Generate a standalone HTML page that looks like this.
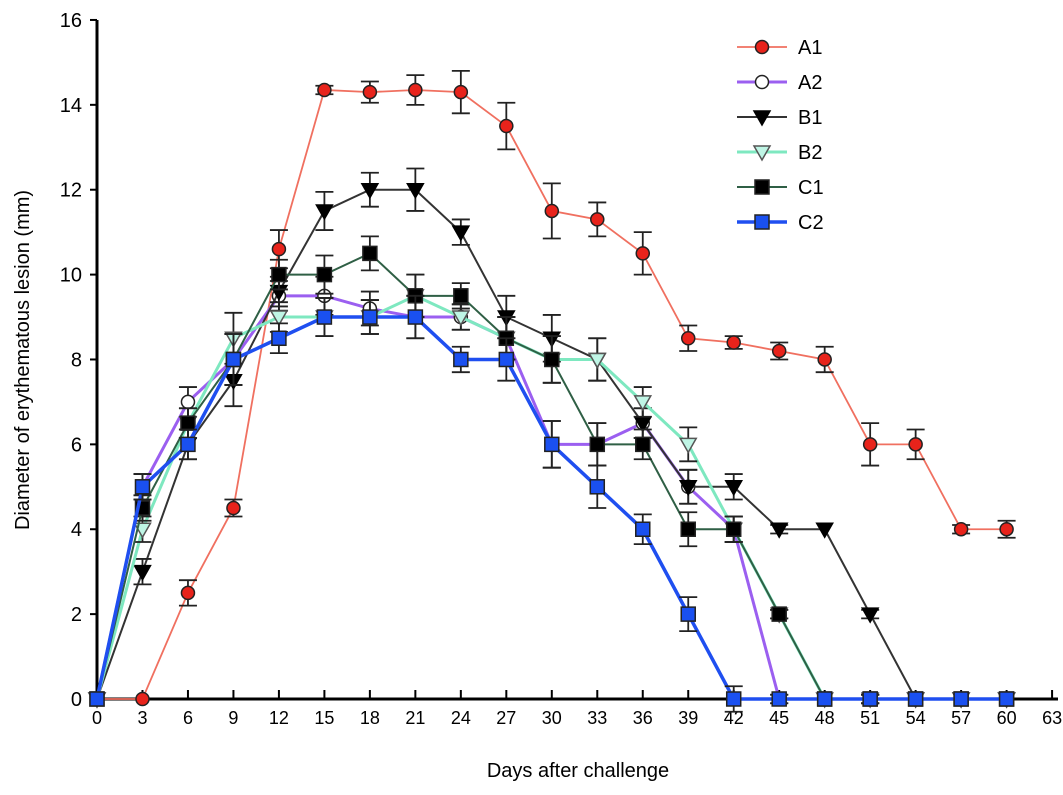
<!DOCTYPE html>
<html><head><meta charset="utf-8"><style>
body{margin:0;background:#fff;}
svg{display:block;font-family:"Liberation Sans",Arial,sans-serif;}
</style></head><body>
<svg id="chart" width="1063" height="795" viewBox="0 0 1063 795"></svg>
<script>
const days=[0,3,6,9,12,15,18,21,24,27,30,33,36,39,42,45,48,51,54,57,60];
const xTicks=[0,3,6,9,12,15,18,21,24,27,30,33,36,39,42,45,48,51,54,57,60,63];
const yTicks=[0,2,4,6,8,10,12,14,16];
const seriesNames=["A1","A2","B1","B2","C1","C2"];
const a1=[0,0,2.5,4.5,10.6,14.35,14.3,14.35,14.3,13.5,11.5,11.3,10.5,8.5,8.4,8.2,8,6,6,4,4];
const a2=[0,5,7,8,9.5,9.5,9.2,9,9,8.5,6,6,6.5,5,4,0,0,0,0,0,0];
const b1=[0,3,6,7.5,9.6,11.5,12,12,11,9,8.5,8,6.5,5,5,4,4,2,0,0,0];
const b2=[0,4,6.5,8.5,9,9,9,9.5,9,8.5,8,8,7,6,4,2,0,0,0,0,0];
const c1=[0,4.5,6.5,8,10,10,10.5,9.5,9.5,8.5,8,6,6,4,4,2,0,0,0,0,0];
const c2=[0,5,6,8,8.5,9,9,9,8,8,6,5,4,2,0,0,0,0,0,0,0];
const errA1=[0,0,0.3,0.2,0.45,0.1,0.25,0.35,0.5,0.55,0.65,0.4,0.5,0.3,0.15,0.2,0.3,0.5,0.35,0.1,0.2];
const errOther=[0,0.3,0.35,0.6,0.35,0.45,0.4,0.5,0.3,0.5,0.55,0.5,0.35,0.4,0.3,0.1,0,0.1,0,0,0];
const S="http://www.w3.org/2000/svg";
const svg=document.getElementById('chart');
const X=d=>97+d*15.16, Y=v=>699-v*42.44;
function el(t,a,p){const e=document.createElementNS(S,t);for(const k in a)e.setAttribute(k,a[k]);(p||svg).appendChild(e);return e;}
// axes
const ax=el('g',{});


el('line',{x1:97,y1:20,x2:97,y2:700,stroke:'#000','stroke-width':3},ax);
el('line',{x1:96,y1:699,x2:1058,y2:699,stroke:'#000','stroke-width':3},ax);
yTicks.forEach(v=>{el('line',{x1:90,x2:97,y1:Y(v),y2:Y(v),stroke:'#000','stroke-width':2},ax);
 const t=el('text',{x:82,y:Y(v)+7,'text-anchor':'end','font-size':20},ax);t.textContent=v;
 
 });
xTicks.forEach(d=>{el('line',{x1:X(d),x2:X(d),y1:690,y2:699,stroke:'#000','stroke-width':2},ax);
 const t=el('text',{x:X(d),y:724,'text-anchor':'middle','font-size':18},ax);t.textContent=d;
 
 });
const xt=el('text',{x:578,y:777,'text-anchor':'middle','font-size':20});xt.textContent='Days after challenge';


const yt=el('text',{x:29,y:360,'text-anchor':'middle','font-size':20,transform:'rotate(-90 29 360)'});yt.textContent='Diameter of erythematous lesion (mm)';


function marker(g,type,x,y,fill){
 if(type==='circle')el('circle',{cx:x,cy:y,r:6.5,fill:fill,stroke:'#222','stroke-width':1.5},g);
 else if(type==='square')el('rect',{x:x-7,y:y-7,width:14,height:14,fill:fill,stroke:'#222','stroke-width':1.5},g);
 else if(type==='tri')el('polygon',{points:`${x-8},${y-6} ${x+8},${y-6} ${x},${y+8}`,fill:fill,stroke:fill==='#000'?'#000':'#555','stroke-width':1.5},g);
}
const defs=[
 {n:'A1',d:a1,e:errA1,c:'#f07060',w:1.8,m:'circle',f:'#e8231b'},
 {n:'A2',d:a2,e:errOther,c:'#9b5ff0',w:3,m:'circle',f:'#fff'},
 {n:'B1',d:b1,e:errOther,c:'#333',w:2,m:'tri',f:'#000'},
 {n:'B2',d:b2,e:errOther,c:'#7ee8c0',w:3,m:'tri',f:'#bff5e5'},
 {n:'C1',d:c1,e:errOther,c:'#2f5f45',w:2,m:'square',f:'#000'},
 {n:'C2',d:c2,e:errOther,c:'#1f4ff0',w:3.5,m:'square',f:'#1a50f0'}];
defs.forEach((s,si)=>{
 const g=el('g',{});
 
 
 el('polyline',{points:days.map((d,i)=>X(d)+','+Y(s.d[i])).join(' '),fill:'none',stroke:s.c,'stroke-width':s.w},g);
 days.forEach((d,i)=>{const e=s.e[i];if(e>0){const x=X(d),y1=Y(s.d[i]+e),y2=Y(s.d[i]-e);
  el('path',{d:`M${x},${y1}V${y2}M${x-9},${y1}H${x+9}M${x-9},${y2}H${x+9}`,stroke:'#222','stroke-width':1.8,fill:'none'},g);}});
 days.forEach((d,i)=>marker(g,s.m,X(d),Y(s.d[i]),s.f));
 // legend
 const ly=47+si*35;
 const lg=el('g',{});
 
 
 el('line',{x1:737,x2:787,y1:ly,y2:ly,stroke:s.c,'stroke-width':s.w},lg);
 marker(lg,s.m,762,ly,s.f);
 const t=el('text',{x:798,y:ly+7,'font-size':20},lg);t.textContent=s.n;
});
</script>
</body></html>
